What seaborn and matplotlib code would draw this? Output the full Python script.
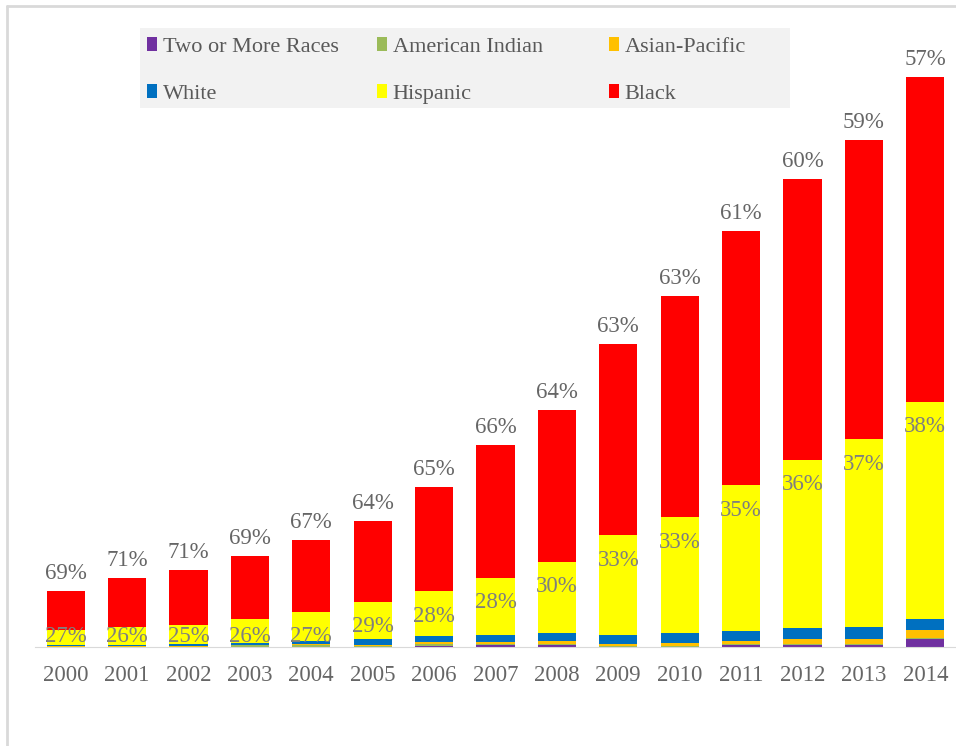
import matplotlib
matplotlib.use("Agg")
import matplotlib.pyplot as plt
import seaborn as sns
import numpy as np
from matplotlib.patches import Patch, Rectangle
from matplotlib.lines import Line2D

# data (arbitrary height units)
years = [str(y) for y in range(2000, 2015)]
two_or_more = [0, 0, 0, 0, 0, 0, 1.5, 2, 2.5, 0, 0, 2, 2, 2, 8]
american_indian = [0.5, 0.5, 0.5, 2, 2, 1, 1.5, 1, 1, 1, 1, 1, 1, 1, 1]
asian_pacific = [0.5, 0.5, 0.5, 0.5, 1, 1, 2, 2, 2.5, 2, 3, 3, 5, 5, 8]
white = [1, 1, 2, 1.5, 3, 6, 6, 7, 8, 9, 10, 10, 11, 12, 11]
hispanic = [15, 18, 19, 24, 29, 37, 45, 57, 71, 100, 116, 146, 168, 188, 217]
black = [39, 49, 55, 63, 72, 81, 104, 133, 152, 191, 221, 254, 281, 299, 325]
hispanic_pct = ["27%", "26%", "25%", "26%", "27%", "29%", "28%", "28%", "30%",
                "33%", "33%", "35%", "36%", "37%", "38%"]
black_pct = ["69%", "71%", "71%", "69%", "67%", "64%", "65%", "66%", "64%",
             "63%", "63%", "61%", "60%", "59%", "57%"]

series = [
    ("Two or More Races", two_or_more, "#7030A0"),
    ("American Indian", american_indian, "#9BBB59"),
    ("Asian-Pacific", asian_pacific, "#FFC000"),
    ("White", white, "#0070C0"),
    ("Hispanic", hispanic, "#FFFF00"),
    ("Black", black, "#FF0000"),
]

sns.set_style("white")
plt.rcParams["font.family"] = ["Liberation Serif", "DejaVu Serif"]

W, H = 956, 746
fig = plt.figure(figsize=(W / 100, H / 100), dpi=100)
ax = fig.add_axes([35 / W, (H - 647) / H, 921 / W, 627 / H])
ax.patch.set_visible(False)

bottom = np.zeros(len(years))
hisp_top = None
for name, vals, col in series:
    vals = np.array(vals, dtype=float)
    sns.barplot(x=years, y=vals, bottom=bottom, color=col, saturation=1,
                width=0.62, ax=ax, linewidth=0)
    bottom = bottom + vals
    if name == "Hispanic":
        hisp_top = bottom.copy()

# labels
for i in range(len(years)):
    ax.text(i, bottom[i] + 7, black_pct[i], ha="center", va="bottom",
            fontsize=16.5, color="#666666")
    ax.text(i, max(hisp_top[i] - 25, 10), hispanic_pct[i], ha="center",
            va="center", fontsize=16.5, color="#7f7f7f")

ax.set_xlim(-0.5, 14.5)
ax.set_ylim(0, 627)
ax.set_yticks([])
ax.set_ylabel("")
ax.set_xlabel("")
for s in ["top", "right", "left"]:
    ax.spines[s].set_visible(False)
ax.spines["bottom"].set_color("#d9d9d9")
ax.tick_params(axis="x", length=0, pad=13, labelsize=16.5, labelcolor="#666666")

# legend background box
fig.add_artist(Rectangle((140 / W, 1 - 108 / H), 650 / W, 80 / H,
                         transform=fig.transFigure, facecolor="#f2f2f2",
                         edgecolor="none", zorder=1))

# legend: three single-column legends, row-wise order
col_x = [147, 377, 609]
for c in range(3):
    items = [series[c], series[c + 3]]
    handles = [Patch(facecolor=col, edgecolor="none") for _, _, col in items]
    labels = [name for name, _, _ in items]
    leg = fig.legend(handles, labels, loc="upper left",
                     bbox_to_anchor=(col_x[c] / W, 1 - 37 / H),
                     fontsize=16, frameon=False,
                     handlelength=0.45, handleheight=0.6, handletextpad=0.25,
                     labelspacing=1.22, borderaxespad=0, borderpad=0)
    leg.set_zorder(5)
    for t in leg.get_texts():
        t.set_color("#595959")

# chart border (top and left)
fig.add_artist(Line2D([7 / W, 1], [1 - 6 / H, 1 - 6 / H], color="#d9d9d9", lw=2))
fig.add_artist(Line2D([7 / W, 7 / W], [0, 1 - 6 / H], color="#d9d9d9", lw=2))

fig.savefig("out.png", dpi=100)
